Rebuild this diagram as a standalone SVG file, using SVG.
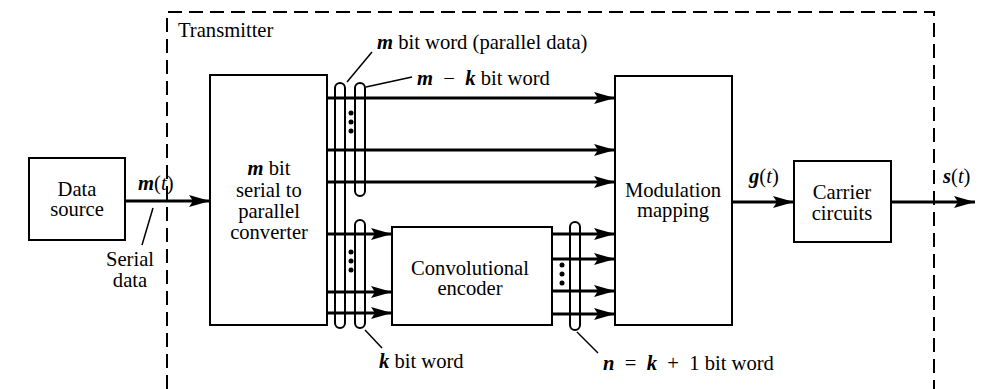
<svg xmlns="http://www.w3.org/2000/svg" width="986" height="389" viewBox="0 0 986 389">
<style>
text{font-family:"Liberation Serif","DejaVu Serif","Times New Roman",serif;font-size:20.6px;fill:#000}
.c{text-anchor:middle}
.v{font-style:italic;font-weight:bold}
.i{font-style:italic}
.box{fill:#fff;stroke:#000;stroke-width:2}
.arr{stroke:#000;stroke-width:3;fill:none;marker-end:url(#ah)}
.ov{fill:none;stroke:#000;stroke-width:2}
.ld{stroke:#000;stroke-width:1.5;fill:none}
.dash{fill:none;stroke:#000;stroke-width:2;stroke-dasharray:14 7}
.dot{fill:#000}
</style>
<defs>
<marker id="ah" markerUnits="userSpaceOnUse" markerWidth="24" markerHeight="14" refX="21" refY="7" orient="auto">
<path d="M0,1 L21,7 L0,13 L4,7 Z" fill="#000"/>
</marker>
</defs>
<rect width="986" height="389" fill="#fff"/>
<g id="transmitter">
<path class="dash" d="M167,389 V12 H934 V389"/>
<text x="178" y="37">Transmitter</text>
</g>
<g id="data-source">
<rect class="box" x="29" y="158" width="96" height="82"/>
<text class="c" x="77" y="196">Data</text>
<text class="c" x="77" y="216">source</text>
</g>
<g id="converter">
<rect class="box" x="210" y="75" width="117" height="250"/>
<text class="c" x="269" y="175"><tspan class="v">m</tspan> bit</text>
<text class="c" x="269" y="197">serial to</text>
<text class="c" x="269" y="218">parallel</text>
<text class="c" x="269" y="239">converter</text>
</g>
<g id="encoder">
<rect class="box" x="392" y="227" width="160" height="98"/>
<text class="c" x="470" y="275">Convolutional</text>
<text class="c" x="470" y="295">encoder</text>
</g>
<g id="modulation">
<rect class="box" x="615" y="76" width="117" height="249"/>
<text class="c" x="673" y="197">Modulation</text>
<text class="c" x="673" y="217">mapping</text>
</g>
<g id="carrier">
<rect class="box" x="794" y="161" width="97" height="81"/>
<text class="c" x="842" y="199">Carrier</text>
<text class="c" x="842" y="220">circuits</text>
</g>
<g id="connectors">
<line class="arr" x1="125" y1="201" x2="210" y2="201"/>
<line class="arr" x1="327" y1="98" x2="615" y2="98"/>
<line class="arr" x1="327" y1="150" x2="615" y2="150"/>
<line class="arr" x1="327" y1="182" x2="615" y2="182"/>
<line class="arr" x1="327" y1="234" x2="392" y2="234"/>
<line class="arr" x1="327" y1="292" x2="392" y2="292"/>
<line class="arr" x1="327" y1="313" x2="392" y2="313"/>
<line class="arr" x1="552" y1="234" x2="615" y2="234"/>
<line class="arr" x1="552" y1="259" x2="615" y2="259"/>
<line class="arr" x1="552" y1="291" x2="615" y2="291"/>
<line class="arr" x1="552" y1="314" x2="615" y2="314"/>
<line class="arr" x1="732" y1="202" x2="794" y2="202"/>
<line class="arr" x1="891" y1="202" x2="975" y2="202"/>
</g>
<g id="word-groups">
<rect class="ov" x="335" y="83" width="10" height="245" rx="5"/>
<rect class="ov" x="355" y="83" width="10" height="113" rx="5"/>
<rect class="ov" x="355" y="220" width="10" height="108" rx="5"/>
<rect class="ov" x="570" y="222" width="10" height="108" rx="5"/>
<circle class="dot" cx="351" cy="113" r="2.5"/>
<circle class="dot" cx="351" cy="122" r="2.5"/>
<circle class="dot" cx="351" cy="131" r="2.5"/>
<circle class="dot" cx="351" cy="252" r="2.5"/>
<circle class="dot" cx="351" cy="261" r="2.5"/>
<circle class="dot" cx="351" cy="270" r="2.5"/>
<circle class="dot" cx="562" cy="265" r="2.5"/>
<circle class="dot" cx="562" cy="274" r="2.5"/>
<circle class="dot" cx="562" cy="283" r="2.5"/>
</g>
<g id="labels">
<line class="ld" x1="347" y1="82" x2="372" y2="52"/>
<line class="ld" x1="366" y1="87" x2="412" y2="77"/>
<line class="ld" x1="365" y1="330" x2="382" y2="348"/>
<line class="ld" x1="577" y1="332" x2="598" y2="353"/>
<line class="ld" x1="153" y1="208" x2="142" y2="245"/>
<text x="377" y="49"><tspan class="v">m</tspan> bit word (parallel data)</text>
<text x="417" y="85" xml:space="preserve"><tspan class="v">m</tspan>  −  <tspan class="v">k</tspan> bit word</text>
<text x="379" y="368"><tspan class="v">k</tspan> bit word</text>
<text x="603" y="370" xml:space="preserve"><tspan class="v">n</tspan>  =  <tspan class="v">k</tspan>  +  1 bit word</text>
<text x="138" y="190"><tspan class="v">m</tspan>(<tspan class="i">t</tspan>)</text>
<text class="c" x="130" y="266">Serial</text>
<text class="c" x="130" y="287">data</text>
<text x="749" y="183"><tspan class="v">g</tspan>(<tspan class="i">t</tspan>)</text>
<text x="943" y="183"><tspan class="v">s</tspan>(<tspan class="i">t</tspan>)</text>
</g>
</svg>
